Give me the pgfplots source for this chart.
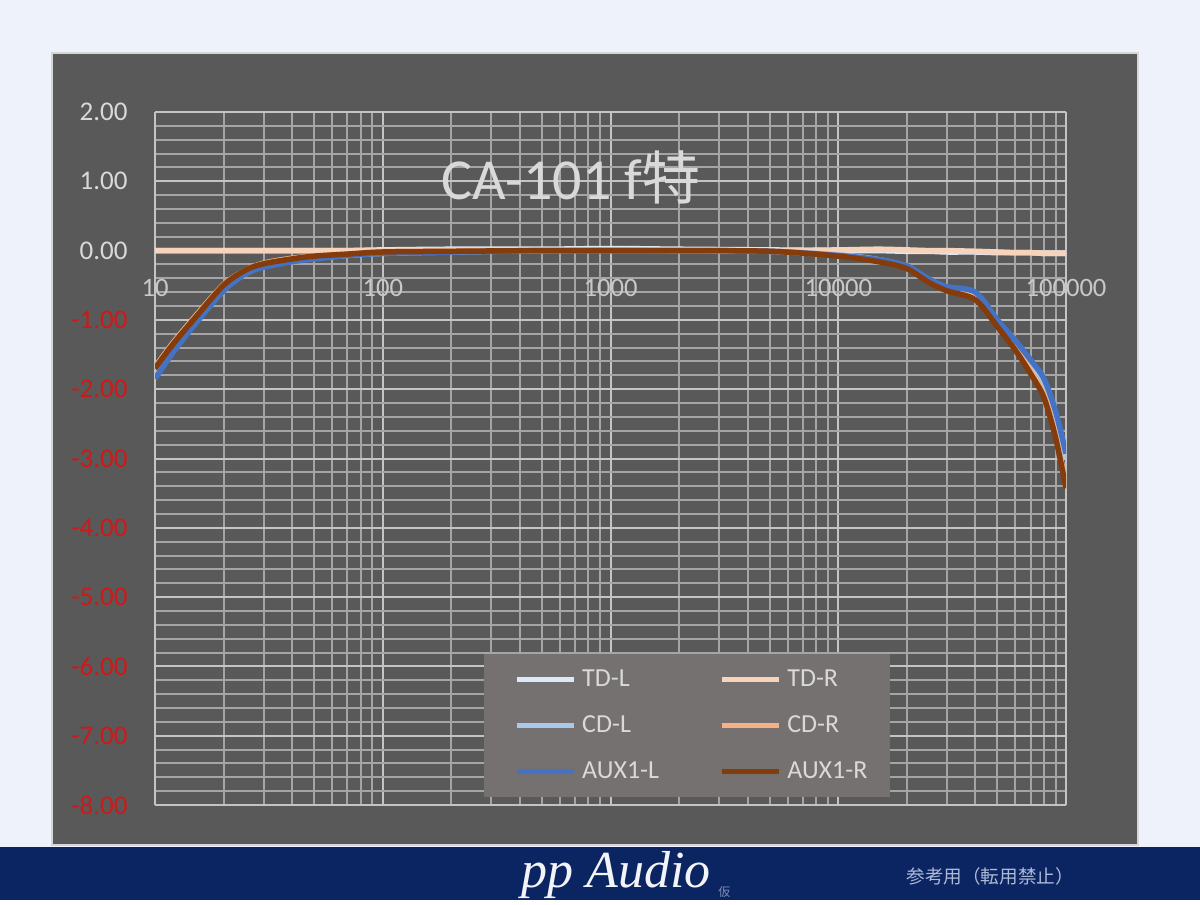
\documentclass[border=0pt]{standalone}
\usepackage{pgfplots}
\pgfplotsset{compat=1.18}
\usepackage{pgfplotstable}
\usepackage{fontspec}
\setmainfont{Carlito}
\newfontfamily\cjk{Noto Sans CJK JP}
\newfontfamily\scr{Liberation Serif}

\definecolor{bg}{HTML}{EEF2FA}
\definecolor{chartbg}{HTML}{595959}
\definecolor{navy}{HTML}{0B2462}
\definecolor{gridmin}{HTML}{A5A5A5}
\definecolor{gridmaj}{HTML}{C4C4C4}
\definecolor{lbl}{HTML}{D9D9D9}
\definecolor{xlbl}{HTML}{C8C8C8}
\definecolor{negred}{HTML}{D01818}
\definecolor{legfill}{HTML}{767171}
\definecolor{tdl}{HTML}{DCE9F8}
\definecolor{tdr}{HTML}{F8D3BC}
\definecolor{cdl}{HTML}{A9C8EA}
\definecolor{cdr}{HTML}{F4B183}
\definecolor{auxl}{HTML}{4472C4}
\definecolor{auxr}{HTML}{843C0C}
\definecolor{note}{HTML}{AEBBD8}

% frequency response, dB
\pgfplotstableread{
f      tdl    tdr    cdl    cdr    auxl   auxr
10     0.00   0.00  -1.83  -1.68  -1.85  -1.70
12     0.00   0.00  -1.45  -1.33  -1.47  -1.35
15     0.00   0.00  -1.04  -0.95  -1.06  -0.97
20     0.00   0.00  -0.57  -0.49  -0.58  -0.50
25     0.00   0.00  -0.33  -0.28  -0.33  -0.28
30     0.00   0.00  -0.23  -0.18  -0.24  -0.19
40     0.00   0.00  -0.15  -0.11  -0.16  -0.12
50     0.00   0.00  -0.11  -0.08  -0.12  -0.08
70     0.00   0.00  -0.07  -0.05  -0.07  -0.05
100    0.01   0.00  -0.04  -0.02  -0.04  -0.02
200    0.02   0.01  -0.02  -0.01  -0.02  -0.01
500    0.02   0.01   0.00   0.00   0.00   0.00
1000   0.03   0.01   0.01   0.00   0.00   0.00
2000   0.02   0.01   0.00   0.00   0.00   0.00
5000   0.01   0.00  -0.01  -0.01  -0.01  -0.01
10000  0.00   0.01  -0.06  -0.07  -0.07  -0.08
15000  0.00   0.02  -0.13  -0.15  -0.13  -0.16
20000 -0.01   0.01  -0.23  -0.25  -0.22  -0.26
25000 -0.01   0.00  -0.43  -0.45  -0.41  -0.46
30000 -0.02   0.00  -0.55  -0.57  -0.52  -0.58
40000 -0.02  -0.01  -0.64  -0.69  -0.60  -0.71
50000 -0.03  -0.02  -1.04  -1.08  -1.00  -1.10
60000 -0.03  -0.03  -1.34  -1.41  -1.30  -1.44
70000 -0.03  -0.03  -1.63  -1.74  -1.58  -1.78
80000 -0.04  -0.04  -1.90  -2.08  -1.85  -2.12
90000 -0.04  -0.04  -2.38  -2.66  -2.32  -2.70
100000 -0.04 -0.04  -3.00  -3.38  -2.93  -3.43
}\fresp

\begin{document}
\begin{tikzpicture}
% page, chart area, footer band
\fill[bg] (0pt,0pt) rectangle (600pt,450pt);
\fill[chartbg] (26pt,27.5pt) rectangle (569pt,423.5pt);
\draw[gridmaj!70!white,line width=0.6pt] (26pt,27.5pt) rectangle (569pt,423.5pt);
\fill[navy] (0pt,0pt) rectangle (600pt,26.5pt);

\begin{semilogxaxis}[
  at={(77.5pt,47.5pt)}, anchor=south west,
  scale only axis, width=455.5pt, height=346.5pt,
  log basis x=10,
  xmin=10, xmax=100000, ymin=-8, ymax=2,
  axis x line*=middle, axis y line*=box,
  hide obscured x ticks=false,
  axis line style={draw=gridmaj,line width=1pt},
  grid=both,
  major grid style={draw=gridmaj,line width=1pt},
  minor grid style={draw=gridmin,line width=1pt},
  major tick length=0pt, minor tick length=0pt,
  minor y tick num=4,
  ytick={-8,-7,...,2},
  yticklabels={\textcolor{negred}{-8.00},\textcolor{negred}{-7.00},\textcolor{negred}{-6.00},
    \textcolor{negred}{-5.00},\textcolor{negred}{-4.00},\textcolor{negred}{-3.00},
    \textcolor{negred}{-2.00},\textcolor{negred}{-1.00},0.00,1.00,2.00},
  yticklabel style={font=\fontsize{13.5}{15}\selectfont,text=lbl,anchor=east,inner sep=0pt,xshift=-13.5pt},
  xtick={10,100,1000,10000,100000},
  xticklabels={10,100,1000,10000,100000},
  minor xtick={20,30,40,50,60,70,80,90,200,300,400,500,600,700,800,900,
    2000,3000,4000,5000,6000,7000,8000,9000,20000,30000,40000,50000,60000,70000,80000,90000},
  xticklabel style={font=\fontsize{13.3}{15}\selectfont,text=xlbl,anchor=center,yshift=-18.5pt},
  legend columns=2,
  legend style={at={(rel axis cs:0.3611,0.2179)}, anchor=north west,
    fill=legfill, draw=none, outer sep=0pt, inner xsep=10.5pt, inner ysep=6pt,
    font=\fontsize{13}{15}\selectfont, text=lbl, row sep=9pt,
    nodes={inner xsep=1pt},
    /tikz/every odd column/.append style={column sep=2pt},
    /tikz/every even column/.append style={column sep=24.5pt}},
  legend cell align=left,
  legend image code/.code={\path (0pt,0pt); \draw[#1,line width=2.5pt] (4.5pt,0pt) -- (33pt,0pt);},
  every axis plot/.append style={smooth, line width=2.75pt, mark=none},
]
\addplot[tdl]  table[x=f,y=tdl]  {\fresp};
\addplot[tdr]  table[x=f,y=tdr]  {\fresp};
\addplot[cdl]  table[x=f,y=cdl]  {\fresp};
\addplot[cdr]  table[x=f,y=cdr]  {\fresp};
\addplot[auxl] table[x=f,y=auxl] {\fresp};
\addplot[auxr] table[x=f,y=auxr] {\fresp};
\legend{TD-L,TD-R,CD-L,CD-R,AUX1-L,AUX1-R}
\end{semilogxaxis}

% title over the grid
\node[text=lbl,font=\fontsize{29}{32}\selectfont] at (285.5pt,361.5pt) {CA-101 f{\cjk 特}};

% footer
\node[anchor=base,text=white!95!navy,font=\scr\itshape\fontsize{26}{28}\selectfont] at (308pt,6.5pt) {pp Audio};
\node[anchor=base west,text=note!70!navy,font=\cjk\fontsize{6}{7}\selectfont,inner sep=0pt] at (359pt,2pt) {仮};
\node[anchor=west,text=note,font=\cjk\fontsize{9.3}{11}\selectfont,inner sep=0pt] at (453pt,12pt) {参考用（転用禁止）};
\end{tikzpicture}
\end{document}
